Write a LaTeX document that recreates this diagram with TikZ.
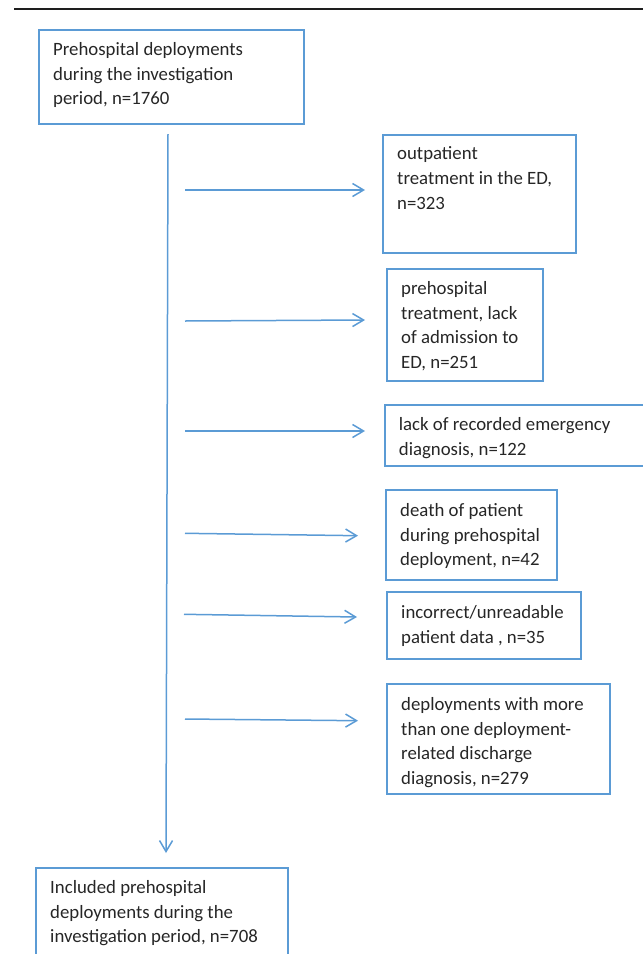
\documentclass[tikz,border=0pt]{standalone}
\usepackage{fontspec}
\setmainfont{Carlito}
\usetikzlibrary{arrows.meta}
\definecolor{boxblue}{HTML}{5B9BD5}
\definecolor{txtgray}{HTML}{262626}
\definecolor{rulecol}{HTML}{1E1E1E}
\newcommand{\fstrut}{\rule{0pt}{15pt}}
\tikzset{
  boxnode/.style={draw=boxblue, line width=1.8pt, rectangle, inner sep=0pt, outer sep=0pt, anchor=north west},
  txt/.style={anchor=north west, inner sep=0pt, align=left, text=txtgray,
    font=\fontsize{18.8pt}{24.8pt}\selectfont},
  arr/.style={draw=boxblue, line width=1.5pt, -{Straight Barb[length=11pt, width=13pt, line width=1.5pt]}}
}
\begin{document}
\begin{tikzpicture}[x=1pt, y=-1pt]
\useasboundingbox (0,0) rectangle (643,954);
% top rule
\coordinate (r1) at (14,8.8);
\coordinate (r2) at (660,8.8);
\draw[rulecol, line width=2.6pt] (r1) -- (r2);

% boxes
\node[boxnode, minimum width=265pt, minimum height=94pt] (b0) at (39,30) {};
\node[boxnode, minimum width=193pt, minimum height=118pt] (b1) at (383,135) {};
\node[boxnode, minimum width=156pt, minimum height=112pt] (b2) at (387,269) {};
\node[boxnode, minimum width=275pt, minimum height=61pt] (b3) at (385,405) {};
\node[boxnode, minimum width=171pt, minimum height=90pt] (b4) at (386,490) {};
\node[boxnode, minimum width=194pt, minimum height=67pt] (b5) at (387,592) {};
\node[boxnode, minimum width=223pt, minimum height=110pt] (b6) at (387,684) {};
\node[boxnode, minimum width=252pt, minimum height=110pt] (b7) at (36,868) {};

% texts (positioned by first baseline minus 15pt)
\node[txt] (t0) at (53,40) {\fstrut Prehospital deployments\\during the investigation\\period, n=1760};
\node[txt] (t1) at (397,144.3) {\fstrut outpatient\\treatment in the ED,\\n=323};
\node[txt] (t2) at (401,279) {\fstrut prehospital\\treatment, lack\\of admission to\\ED, n=251};
\node[txt] (t3) at (398.7,415.7) {\fstrut lack of recorded emergency\\diagnosis, n=122};
\node[txt] (t4) at (400,501) {\fstrut death of patient\\during prehospital\\deployment, n=42};
\node[txt] (t5) at (401,603.3) {\fstrut incorrect/unreadable\\patient data , n=35};
\node[txt] (t6) at (401,695) {\fstrut deployments with more\\than one deployment-\\related discharge\\diagnosis, n=279};
\node[txt] (t7) at (50,878) {\fstrut Included prehospital\\deployments during the\\investigation period, n=708};

% main vertical connector
\coordinate (vtop) at (168,134);
\coordinate (vbot) at (166,853);
\draw[arr] (vtop) -- (vbot);

% side connectors
\coordinate (s1) at (185,190);   \coordinate (e1) at (365,190);
\coordinate (s2) at (185,321);   \coordinate (e2) at (365,320);
\coordinate (s3) at (185,431);   \coordinate (e3) at (365,431);
\coordinate (s4) at (185,533.3); \coordinate (e4) at (358,535.7);
\coordinate (s5) at (184,614.3); \coordinate (e5) at (357,617);
\coordinate (s6) at (185,719);   \coordinate (e6) at (358,720.7);
\draw[arr] (s1) -- (e1);
\draw[arr] (s2) -- (e2);
\draw[arr] (s3) -- (e3);
\draw[arr] (s4) -- (e4);
\draw[arr] (s5) -- (e5);
\draw[arr] (s6) -- (e6);
\end{tikzpicture}
\end{document}
